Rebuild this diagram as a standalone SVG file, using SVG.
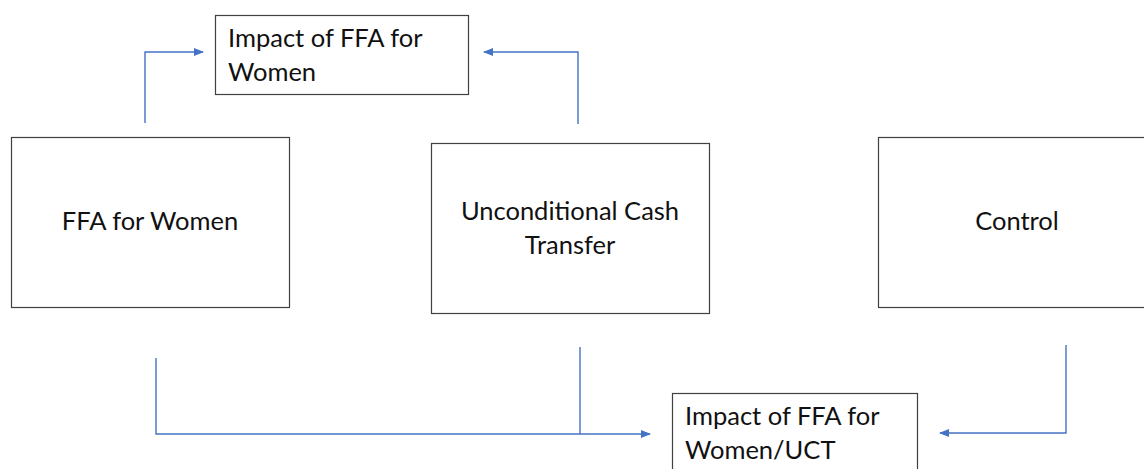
<svg xmlns="http://www.w3.org/2000/svg" width="1144" height="469" viewBox="0 0 1144 469">
<style>
.box{fill:#fff;stroke:#404040;stroke-width:1.2}
.t{font-family:Lato,"Open Sans","Liberation Sans",sans-serif;font-size:25.5px;fill:#111}
.c{text-anchor:middle}
.ln{fill:none;stroke:#4472C4;stroke-width:1.4}
</style>
<defs>
<marker id="ah" markerWidth="10" markerHeight="8" refX="9" refY="4" orient="auto" markerUnits="userSpaceOnUse">
<path d="M0,0 L10,4 L0,8 Z" fill="#4472C4"/>
</marker>
</defs>
<rect width="1144" height="469" fill="#fff"/>
<g id="connectors">
<path class="ln" d="M145,123 V52 H203" marker-end="url(#ah)"/>
<path class="ln" d="M578,124 V52 H484" marker-end="url(#ah)"/>
<path class="ln" d="M156,358 V434 H650" marker-end="url(#ah)"/>
<path class="ln" d="M580,347 V434"/>
<path class="ln" d="M1066,345 V433 H940" marker-end="url(#ah)"/>
</g>
<g id="impact-ffa">
<rect class="box" x="215.5" y="15.5" width="253" height="79"/>
<text class="t" x="228" y="47">Impact of FFA for</text>
<text class="t" x="228" y="81">Women</text>
</g>
<g id="ffa-women">
<rect class="box" x="11.5" y="137.5" width="278" height="170"/>
<text class="t c" x="150" y="230">FFA for Women</text>
</g>
<g id="uct">
<rect class="box" x="431.5" y="143.5" width="278" height="170"/>
<text class="t c" x="570" y="220">Unconditional Cash</text>
<text class="t c" x="570" y="254">Transfer</text>
</g>
<g id="control">
<rect class="box" x="878.5" y="137.5" width="280" height="170"/>
<text class="t c" x="1017" y="230">Control</text>
</g>
<g id="impact-uct">
<rect class="box" x="672.5" y="393.5" width="245" height="90"/>
<text class="t" x="685" y="425">Impact of FFA for</text>
<text class="t" x="685" y="459">Women/UCT</text>
</g>
</svg>
